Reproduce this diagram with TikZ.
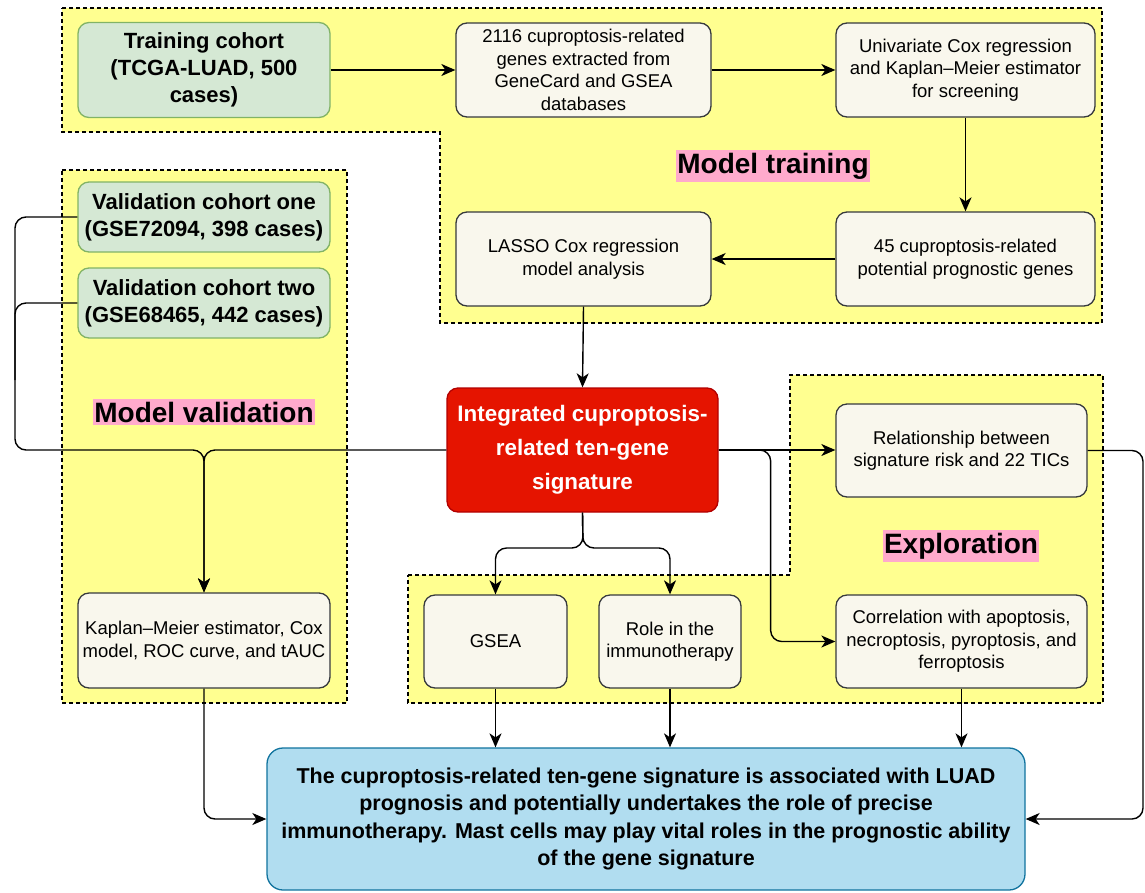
\documentclass[tikz,border=0pt]{standalone}
\usepackage{fontspec}
\setmainfont{Liberation Sans}
\usetikzlibrary{arrows.meta}
\definecolor{boxfill}{HTML}{F9F7ED}
\definecolor{boxline}{HTML}{36393D}
\definecolor{gfill}{HTML}{D5E8D4}
\definecolor{gline}{HTML}{82B366}
\definecolor{rfill}{HTML}{E51400}
\definecolor{rline}{HTML}{B20000}
\definecolor{bfill}{HTML}{B1DDF0}
\definecolor{bline}{HTML}{10739E}
\definecolor{yfill}{HTML}{FFFF90}
\definecolor{pinkbg}{HTML}{FFAACC}
\tikzset{
  region/.style={draw=black, fill=yfill, line width=1.4pt, dash pattern=on 4pt off 3pt},
  box/.style={draw=boxline, fill=boxfill, rounded corners=11pt, line width=1.3pt, align=center,
    inner sep=2pt, font=\fontsize{18.5}{22.5}\selectfont},
  gbox/.style={box, draw=gline, fill=gfill, font=\fontsize{22}{27}\selectfont\bfseries},
  rbox/.style={box, draw=rline, fill=rfill, text=white, font=\fontsize{22.4}{34}\selectfont\bfseries},
  bbox/.style={box, draw=bline, fill=bfill, rounded corners=16pt, font=\fontsize{21.5}{27.5}\selectfont\bfseries},
  title/.style={fill=pinkbg, inner xsep=1pt, inner ysep=3pt, font=\fontsize{28}{30}\selectfont\bfseries},
  conn/.style={line width=1.4pt, rounded corners=11pt},
  arr/.style={conn, -{Stealth[length=14pt,width=12pt,inset=4pt]}}
}
\begin{document}
\begin{tikzpicture}[x=1pt,y=-1pt]
\useasboundingbox (0,0) rectangle (1145,892);

% regions
\path[region] (62,8) -- (1102,8) -- (1102,323) -- (440,323) -- (440,132) -- (62,132) -- cycle;
\path[region] (62,170) -- (347,170) -- (347,703) -- (62,703) -- cycle;
\path[region] (408,575) -- (790,575) -- (790,375) -- (1103,375) -- (1103,703) -- (408,703) -- cycle;

% titles
\node[title] (ttrain) at (773,166) {Model training};
\node[title] (tval) at (204,412) {Model validation};
\node[title] (texp) at (961,546) {Exploration};

% training
\node[gbox, minimum width=252pt, minimum height=95pt] (tc) at (204,70) {Training cohort\\(TCGA-LUAD, 500\\cases)};
\node[box, minimum width=255pt, minimum height=94pt] (genes) at (583.5,70) {2116 cuproptosis-related\\genes extracted from\\GeneCard and GSEA\\databases};
\node[box, minimum width=259pt, minimum height=94pt] (uni) at (965.5,70) {Univariate Cox regression\\and Kaplan\textendash Meier estimator\\for screening};
\node[box, minimum width=259pt, minimum height=94pt] (p45) at (965.5,259) {45 cuproptosis-related\\potential prognostic genes};
\node[box, minimum width=255pt, minimum height=94pt] (lasso) at (583.5,259) {LASSO Cox regression\\model analysis};

% validation
\node[gbox, minimum width=252pt, minimum height=70pt] (v1) at (204,217) {Validation cohort one\\(GSE72094, 398 cases)};
\node[gbox, minimum width=252pt, minimum height=70pt] (v2) at (204,303) {Validation cohort two\\(GSE68465, 442 cases)};
\node[box, minimum width=252pt, minimum height=95pt] (km) at (204,640.5) {Kaplan\textendash Meier estimator, Cox\\model, ROC curve, and tAUC};

% central
\node[rbox, minimum width=271pt, minimum height=124pt] (sig) at (582.5,450) {Integrated cuproptosis-\\related ten-gene\\signature};

% exploration
\node[box, minimum width=251pt, minimum height=93pt] (rel) at (961.5,450.5) {Relationship between\\signature risk and 22 TICs};
\node[box, minimum width=251pt, minimum height=93pt] (cor) at (961.5,641.5) {Correlation with apoptosis,\\necroptosis, pyroptosis, and\\ferroptosis};
\node[box, minimum width=143pt, minimum height=93pt] (gsea) at (495.5,641.5) {GSEA};
\node[box, minimum width=142pt, minimum height=93pt] (role) at (670,641.5) {Role in the\\immunotherapy};

% conclusion
\node[bbox, minimum width=758pt, minimum height=142pt] (concl) at (646,819) {The cuproptosis-related ten-gene signature is associated with LUAD\\prognosis and potentially undertakes the role of precise\\immunotherapy. Mast cells may play vital roles in the prognostic ability\\of the gene signature};

% connectors
\coordinate (lbus) at (15,450);
\coordinate (lbus2) at (15,380);
\coordinate (split) at (583,548);
\coordinate (rloop) at (1143,819);
\draw[arr] (tc.east) -- (tc.east -| genes.west);
\draw[arr] (genes.east) -- (genes.east -| uni.west);
\draw[arr] (uni.south) -- (p45.north);
\draw[arr] (p45.west) -- (lasso.east);
\draw[arr] (lasso.south) -- (sig.north);
\draw[conn] (v2.west) -| (lbus2);
\draw[arr] (v1.west) -| (lbus) -| (km.north);
\draw[arr] (sig.west) -| (km.north);
\draw[arr] (sig.east) -- (sig.east -| rel.west);
\draw[arr] (sig.east) -- ++(52,0) |- (cor.west);
\draw[arr] (rel.east) -| (rloop) -- (concl.east);
\draw[arr] (sig.south) -- (split) -| (gsea.north);
\draw[arr] (sig.south) -- (split) -| (role.north);
\draw[arr] (km.south) |- (concl.west);
\draw[arr] (gsea.south) -- (gsea.south |- concl.north);
\draw[arr] (role.south) -- (role.south |- concl.north);
\draw[arr] (cor.south) -- (cor.south |- concl.north);
\end{tikzpicture}
\end{document}
